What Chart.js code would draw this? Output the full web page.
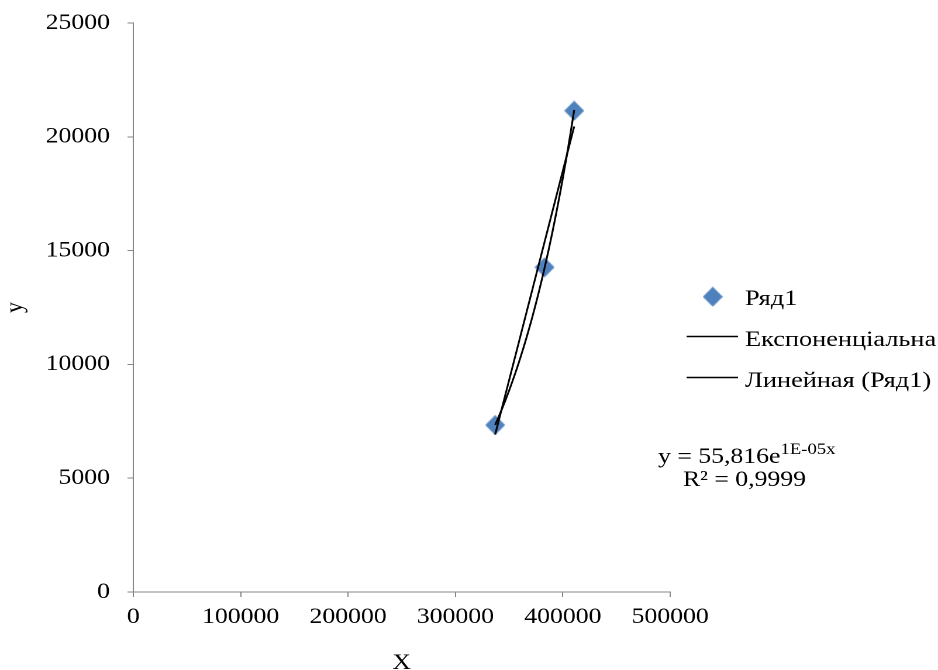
<!DOCTYPE html>
<html>
<head>
<meta charset="utf-8">
<script src="https://cdn.jsdelivr.net/npm/chart.js@4.4.1/dist/chart.umd.min.js"></script>
<style>
  html, body { margin: 0; padding: 0; background: #fff; overflow: hidden; }
  /* the Excel export is wider than Times metrics, so the drawing is stretched sideways */
  #wrap { width: 802px; height: 670px; transform: scaleX(1.16958); transform-origin: 0 0; }
</style>
</head>
<body>
<div id="wrap"><canvas id="chartTrend" width="802" height="670"></canvas></div>
<script>
const seriesName = 'Ряд1';
const xValues = [337000, 383000, 410600];
const yValues = [7337, 14266, 21147];

const xTickValues = [0, 100000, 200000, 300000, 400000, 500000];
const yTickValues = [0, 5000, 10000, 15000, 20000, 25000];

const legendLabels = ['Ряд1', 'Експоненціальна', 'Линейная (Ряд1)'];
const equationMain = 'y = 55,816e';
const equationPower = '1E-05x';
const rSquaredText = 'R² = 0,9999';

const axisGrey = '#868686';
const seriesBlue = '#4F81BD';
const serif = '"Liberation Serif", "Times New Roman", serif';

Chart.defaults.font.family = serif;
Chart.defaults.font.size = 22;
Chart.defaults.color = '#000';

// least squares line through the points
function linearFit(xs, ys) {
  const n = xs.length;
  const mx = xs.reduce((a, b) => a + b, 0) / n;
  const my = ys.reduce((a, b) => a + b, 0) / n;
  let sxy = 0, sxx = 0;
  for (let i = 0; i < n; i++) {
    sxy += (xs[i] - mx) * (ys[i] - my);
    sxx += (xs[i] - mx) * (xs[i] - mx);
  }
  const slope = sxy / sxx;
  return { slope, intercept: my - slope * mx };
}

// exponential trend the way Excel does it: fit ln(y) against x
function expFit(xs, ys) {
  const f = linearFit(xs, ys.map(v => Math.log(v)));
  return { a: Math.exp(f.intercept), b: f.slope };
}

const xMin = Math.min(...xValues);
const xMax = Math.max(...xValues);

const lin = linearFit(xValues, yValues);
const linearPoints = [xMin, xMax].map(x => ({ x, y: lin.slope * x + lin.intercept }));

const ex = expFit(xValues, yValues);
const expPoints = [];
for (let i = 0; i <= 40; i++) {
  const x = xMin + (xMax - xMin) * i / 40;
  expPoints.push({ x, y: ex.a * Math.exp(ex.b * x) });
}

// diamond marker, narrowed so it stays square after the sideways stretch
const MW = 17, MH = 20;
const marker = document.createElement('canvas');
marker.width = MW;
marker.height = MH;
(function () {
  const g = marker.getContext('2d');
  g.fillStyle = seriesBlue;
  g.beginPath();
  g.moveTo(MW / 2, 0);
  g.lineTo(MW, MH / 2);
  g.lineTo(MW / 2, MH);
  g.lineTo(0, MH / 2);
  g.closePath();
  g.fill();
})();

// legend on the right plus the trend equation
const trendLegend = {
  id: 'trendLegend',
  afterDraw(chart) {
    const ctx = chart.ctx;
    ctx.save();
    ctx.fillStyle = '#000';
    ctx.textAlign = 'left';
    ctx.textBaseline = 'alphabetic';
    ctx.font = '22.5px ' + serif;

    ctx.drawImage(marker, 609.4 - MW / 2, 296.7 - MH / 2, MW, MH);
    ctx.fillText(legendLabels[0], 637, 305);

    ctx.strokeStyle = '#000';
    ctx.lineWidth = 1.6;
    [[legendLabels[1], 346], [legendLabels[2], 387]].forEach(([txt, base]) => {
      ctx.beginPath();
      ctx.moveTo(587, base - 9.5);
      ctx.lineTo(631, base - 9.5);
      ctx.stroke();
      ctx.fillText(txt, 637, base);
    });

    ctx.font = '22px ' + serif;
    ctx.fillText(equationMain, 562.6, 463);
    const w = ctx.measureText(equationMain).width;
    ctx.font = '16px ' + serif;
    ctx.fillText(equationPower, 562.6 + w, 454);
    ctx.font = '22px ' + serif;
    ctx.fillText(rSquaredText, 584, 486);
    ctx.restore();
  }
};

const chartTrend = document.getElementById('chartTrend');

new Chart(chartTrend, {
  type: 'scatter',
  data: {
    datasets: [
      {
        label: legendLabels[1],
        data: expPoints,
        showLine: true,
        borderColor: '#000',
        borderWidth: 1.6,
        pointRadius: 0,
        tension: 0,
        order: 0
      },
      {
        label: legendLabels[2],
        data: linearPoints,
        showLine: true,
        borderColor: '#000',
        borderWidth: 1.6,
        pointRadius: 0,
        order: 1
      },
      {
        label: seriesName,
        data: xValues.map((x, i) => ({ x, y: yValues[i] })),
        pointStyle: marker,
        pointRadius: 10,
        order: 2
      }
    ]
  },
  options: {
    responsive: false,
    animation: false,
    devicePixelRatio: 2,
    layout: { padding: { left: 0, right: 229, top: 23, bottom: 0 } },
    plugins: {
      legend: { display: false },
      tooltip: { enabled: false }
    },
    scales: {
      x: {
        type: 'linear',
        position: 'bottom',
        min: 0,
        max: 500000,
        afterBuildTicks: s => { s.ticks = xTickValues.map(v => ({ value: v })); },
        afterFit: s => { s.height = 78; },
        grid: { drawOnChartArea: false, drawTicks: true, tickLength: 5, color: axisGrey },
        border: { display: true, color: axisGrey, width: 1 },
        ticks: { padding: 7, maxRotation: 0, autoSkip: false, callback: v => String(v) },
        title: { display: true, text: 'X', font: { size: 22, lineHeight: 0.6 }, padding: 0 }
      },
      y: {
        type: 'linear',
        position: 'left',
        min: 0,
        max: 25000,
        afterBuildTicks: s => { s.ticks = yTickValues.map(v => ({ value: v })); },
        afterFit: s => {
          s.width = 114;
          // the label overhang is covered by the layout padding
          s.paddingTop = 0;
          s.paddingBottom = 0;
        },
        grid: { drawOnChartArea: false, drawTicks: true, tickLength: 5, color: axisGrey },
        border: { display: true, color: axisGrey, width: 1 },
        ticks: { padding: 15, autoSkip: false, callback: v => String(v) },
        title: { display: true, text: 'y', font: { size: 22 }, padding: 0 }
      }
    }
  },
  plugins: [trendLegend]
});
</script>
</body>
</html>
